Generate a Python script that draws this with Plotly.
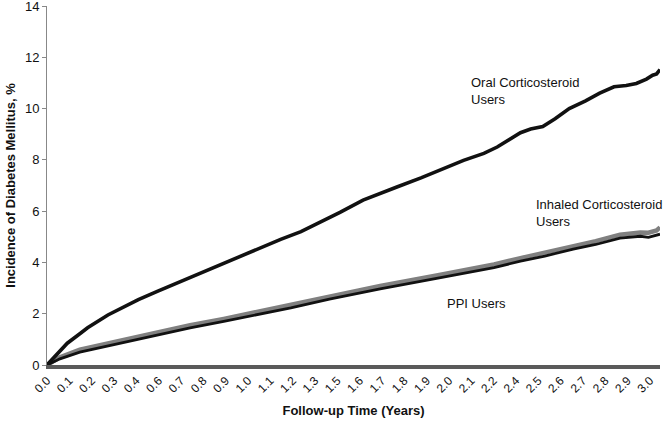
import plotly.graph_objects as go

# Follow-up time (years)
oral_t = [0, 0.051, 0.102, 0.165, 0.204, 0.306, 0.368, 0.459, 0.557, 0.719, 0.817, 0.919, 1.07,
          1.174, 1.276, 1.419, 1.472, 1.588, 1.674, 1.758, 1.879, 1.991, 2.093, 2.195, 2.262,
          2.379, 2.43, 2.491, 2.553, 2.624, 2.706, 2.777, 2.849, 2.91, 2.961, 3.012, 3.043,
          3.063, 3.08]
oral_v = [0, 0.45, 0.85, 1.22, 1.45, 1.95, 2.2, 2.55, 2.88, 3.41, 3.72, 4.05, 4.57,
          4.9, 5.2, 5.72, 5.95, 6.43, 6.7, 6.94, 7.3, 7.65, 7.98, 8.25, 8.5,
          9.06, 9.2, 9.3, 9.6, 10.0, 10.3, 10.6, 10.85, 10.9, 10.98, 11.15, 11.3,
          11.35, 11.52]

low_t = [0, 0.065, 0.165, 0.368, 0.557, 0.719, 0.888, 1.07, 1.225, 1.419, 1.674, 1.971, 2.144,
         2.246, 2.379, 2.501, 2.644, 2.757, 2.879, 2.981, 3.022, 3.063, 3.08]
inhaled_v = [0, 0.3, 0.6, 0.95, 1.27, 1.55, 1.8, 2.09, 2.34, 2.68, 3.08, 3.51, 3.76,
             3.92, 4.17, 4.37, 4.64, 4.83, 5.08, 5.17, 5.16, 5.25, 5.37]
ppi_v = [0, 0.24, 0.5, 0.85, 1.17, 1.45, 1.7, 1.98, 2.23, 2.57, 2.97, 3.4, 3.65,
         3.8, 4.05, 4.25, 4.52, 4.7, 4.95, 5.02, 4.98, 5.06, 5.1]

tick_vals = [0.0, 0.1122, 0.2244, 0.3366, 0.4488, 0.561, 0.6732, 0.7854, 0.8976, 1.0098,
             1.122, 1.2342, 1.3464, 1.4586, 1.5708, 1.683, 1.7952, 1.9074, 2.0196, 2.1318,
             2.244, 2.3562, 2.4684, 2.5806, 2.6928, 2.805, 2.9172, 3.0294]
tick_text = ["0.0", "0.1", "0.2", "0.3", "0.4", "0.6", "0.7", "0.8", "0.9", "1.0",
             "1.1", "1.2", "1.3", "1.5", "1.6", "1.7", "1.8", "1.9", "2.0", "2.1",
             "2.2", "2.4", "2.5", "2.6", "2.7", "2.8", "2.9", "3.0"]
y_ticks = [0, 2, 4, 6, 8, 10, 12, 14]

font = "Liberation Sans, Arial, sans-serif"

fig = go.Figure()
fig.add_trace(go.Scatter(x=low_t, y=inhaled_v, mode="lines",
                         line=dict(color="#808080", width=4.5), name="Inhaled"))
fig.add_trace(go.Scatter(x=low_t, y=ppi_v, mode="lines",
                         line=dict(color="#111111", width=2.8), name="PPI"))
fig.add_trace(go.Scatter(x=oral_t, y=oral_v, mode="lines",
                         line=dict(color="#111111", width=3.6), name="Oral"))

annos = [
    dict(x=2.12, y=10.7, text="Oral Corticosteroid<br>Users"),
    dict(x=2.447, y=5.93, text="Inhaled Corticosteroid<br>Users"),
    dict(x=2.0, y=2.41, text="PPI Users"),
]
for a in annos:
    fig.add_annotation(x=a["x"], y=a["y"], text=a["text"], showarrow=False,
                       xanchor="left", yanchor="middle", align="left",
                       font=dict(family=font, size=13, color="#111111"))

fig.update_layout(
    width=672, height=423,
    margin=dict(l=47, r=12, t=6, b=58),
    plot_bgcolor="white", paper_bgcolor="white",
    showlegend=False,
    font=dict(family=font, color="#111111"),
)
fig.update_xaxes(
    range=[0, 3.08], tickmode="array", tickvals=tick_vals, ticktext=tick_text,
    tickangle=-45, tickfont=dict(size=12), ticks="", showgrid=False, zeroline=False,
    showline=True, linecolor="#5a5a5a", linewidth=4, automargin=False,
    ticklabeloverflow="allow",
    title=dict(text="<b>Follow-up Time (Years)</b>", font=dict(size=13), standoff=12),
)
fig.update_yaxes(
    range=[0, 14], tickvals=y_ticks, tickfont=dict(size=13), ticks="outside",
    ticklen=4, tickcolor="#888888", showgrid=False, zeroline=False,
    showline=True, linecolor="#888888", linewidth=1, automargin=False,
    ticklabeloverflow="allow",
    title=dict(text="<b>Incidence of Diabetes Mellitus, %</b>", font=dict(size=13), standoff=6),
)

fig.write_html("out.html", config={"displayModeBar": False},
               post_script="document.body.style.margin='0';")
